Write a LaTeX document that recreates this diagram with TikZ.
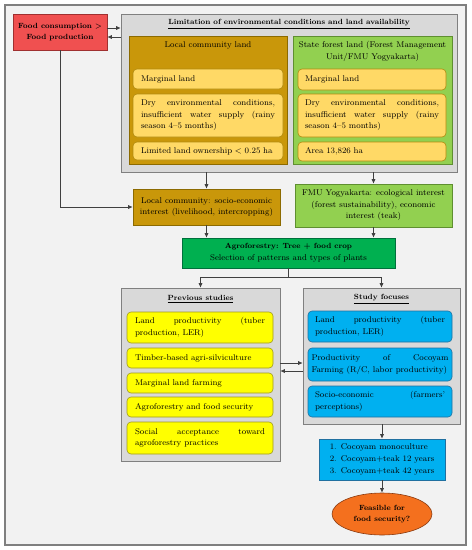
\documentclass[tikz,border=0pt]{standalone}
\usetikzlibrary{arrows.meta,shapes.geometric}
\definecolor{bgc}{HTML}{F2F2F2}
\definecolor{framec}{HTML}{7F7F7F}
\definecolor{grayfill}{HTML}{D9D9D9}
\definecolor{grayline}{HTML}{808080}
\definecolor{redfill}{HTML}{F05050}
\definecolor{redline}{HTML}{A03030}
\definecolor{goldfill}{HTML}{C9970A}
\definecolor{goldline}{HTML}{8C6A00}
\definecolor{lgreen}{HTML}{92D050}
\definecolor{lgreenline}{HTML}{5F8F30}
\definecolor{lorange}{HTML}{FFD966}
\definecolor{lorangeline}{HTML}{B08A10}
\definecolor{dgreen}{HTML}{00B050}
\definecolor{dgreenline}{HTML}{00703C}
\definecolor{yel}{HTML}{FFFF00}
\definecolor{yelline}{HTML}{A09A20}
\definecolor{blu}{HTML}{00B0F0}
\definecolor{bluline}{HTML}{2070A0}
\definecolor{orng}{HTML}{F4701E}
\definecolor{orngline}{HTML}{8A3A10}
\definecolor{conn}{HTML}{404040}
\newcommand\btx[1]{{\fontsize{7.5}{11.5}\selectfont\bfseries #1}}
\newcommand\nohyph{\hyphenpenalty=10000 \exhyphenpenalty=10000 \relax}
\begin{document}
\begin{tikzpicture}[x=1pt,y=-1pt,
  txt/.style={font={\fontsize{8.35}{11.6}\selectfont\nohyph}},
  box/.style={draw, line width=0.6pt, inner sep=0pt, align=center, txt},
  wh/.style 2 args={minimum width=#1pt, minimum height=#2pt},
  item/.style={box, rounded corners=4pt},
  loitem/.style={item, fill=lorange, draw=lorangeline, text width=134pt, align=justify},
  yitem/.style={item, fill=yel, draw=yelline, text width=130pt, align=justify},
  bitem/.style={item, fill=blu, draw=bluline, text width=130pt, align=justify},
  panel/.style={box, fill=grayfill, draw=grayline},
  title/.style={txt, inner sep=0pt},
  arr/.style={draw=conn, line width=0.6pt, -{Latex[length=4.5pt,width=4pt]}}
]
\useasboundingbox (0,0) rectangle (472,550);
\fill[white] (0,0) rectangle (472,550);
\draw[fill=bgc, draw=framec, line width=1.2pt] (5,5) rectangle (466,545);

% top
\node[box, fill=redfill, draw=redline, wh={94}{36}] (red) at (60,32) {\btx{Food consumption >}\\\btx{Food production}};
\node[panel, wh={336}{158}] (lim) at (289,93) {};
\node[title] (limt) at (289,24) {\btx{\underline{Limitation of environmental conditions and land availability}}};

\node[box, fill=goldfill, draw=goldline, wh={158}{128}] (loc) at (208,100) {};
\node[title] (loct) at (208,45) {Local community land};
\node[box, fill=lgreen, draw=lgreenline, wh={159}{128}] (sta) at (372.5,100) {};
\node[title, align=center] (stat) at (372.5,51.5) {State forest land (Forest Management\\Unit/FMU Yogyakarta)};

\node[loitem, wh={150}{20}, align=left] (l1) at (208,79) {Marginal land};
\node[loitem, wh={150}{43}] (l2) at (208,115.5) {Dry environmental conditions, insufficient water supply (rainy season 4--5 months)};
\node[loitem, wh={150}{18}, align=left] (l3) at (208,151) {Limited land ownership < 0.25 ha};

\node[loitem, wh={148}{21}, align=left] (s1) at (372,79.5) {Marginal land};
\node[loitem, wh={148}{43}] (s2) at (372,115.5) {Dry environmental conditions, insufficient water supply (rainy season 4--5 months)};
\node[loitem, wh={148}{19}, align=left] (s3) at (372,151.5) {Area 13,826 ha};

% middle
\node[box, fill=goldfill, draw=goldline, wh={147}{36}] (locsoc) at (206.5,207) {Local community: socio-economic\\interest (livelihood, intercropping)};
\node[box, fill=lgreen, draw=lgreenline, wh={157}{43}] (fmu) at (373.5,205.5) {FMU Yogyakarta: ecological interest\\(forest sustainability), economic\\interest (teak)};
\node[box, fill=dgreen, draw=dgreenline, wh={213}{30}] (agro) at (288.5,253) {\btx{Agroforestry: Tree + food crop}\\Selection of patterns and types of plants};

% previous studies
\node[panel, wh={159}{173}] (prev) at (200.5,374.5) {};
\node[title] (prevt) at (200.5,299) {\btx{\underline{Previous studies}}};
\node[yitem, wh={146}{31}] (p1) at (200,327.5) {Land productivity (tuber production, LER)};
\node[yitem, wh={146}{20}, align=left] (p2) at (200,358) {Timber-based agri-silviculture};
\node[yitem, wh={146}{20}, align=left] (p3) at (200,383) {Marginal land farming};
\node[yitem, wh={146}{20}, align=left] (p4) at (200,407) {Agroforestry and food security};
\node[yitem, wh={146}{32}] (p5) at (200,438) {Social acceptance toward agroforestry practices};

% study focuses
\node[panel, wh={157}{136}] (stu) at (381.5,356) {};
\node[title] (stut) at (381.5,299) {\btx{\underline{Study focuses}}};
\node[bitem, wh={144}{31}] (f1) at (380,326.5) {Land productivity (tuber production, LER)};
\node[bitem, wh={144}{33}, text width=137pt] (f2) at (380,364.5) {Productivity of Cocoyam\linebreak Farming (R/C, labor productivity)};
\node[bitem, wh={144}{31}] (f3) at (380,401.5) {Socio-economic (farmers' perceptions)};

\node[box, fill=blu, draw=bluline, wh={126}{41}, align=left, font={\fontsize{8.35}{12.3}\selectfont}] (lst) at (382,459.5) {1.\enspace Cocoyam monoculture\\2.\enspace Cocoyam+teak 12 years\\3.\enspace Cocoyam+teak 42 years};
\node[box, ellipse, fill=orng, draw=orngline, wh={100}{42}] (ell) at (382,514) {\btx{Feasible for}\\\btx{food security?}};

% connectors
\draw[arr] (red.east |- 0,28) -- (lim.west |- 0,28);
\draw[arr] (lim.west |- 0,37) -- (red.east |- 0,37);
\draw[arr] (red.south) |- (locsoc.west);
\draw[arr] (locsoc.north |- lim.south) -- (locsoc.north);
\draw[arr] (fmu.north |- lim.south) -- (fmu.north);
\draw[arr] (locsoc.south) -- (locsoc.south |- agro.north);
\draw[arr] (fmu.south) -- (fmu.south |- agro.north);
\coordinate (jn) at ([yshift=-9pt]agro.south);
\draw[draw=conn, line width=0.6pt] (agro.south) -- (jn);
\draw[arr] (jn) -| (prev.north);
\draw[arr] (jn) -| (stu.north);
\draw[arr] (prev.east |- 0,363) -- (stu.west |- 0,363);
\draw[arr] (stu.west |- 0,371) -- (prev.east |- 0,371);
\draw[arr] (lst.north |- stu.south) -- (lst.north);
\draw[arr] (lst.south) -- (ell.north);
\end{tikzpicture}
\end{document}
